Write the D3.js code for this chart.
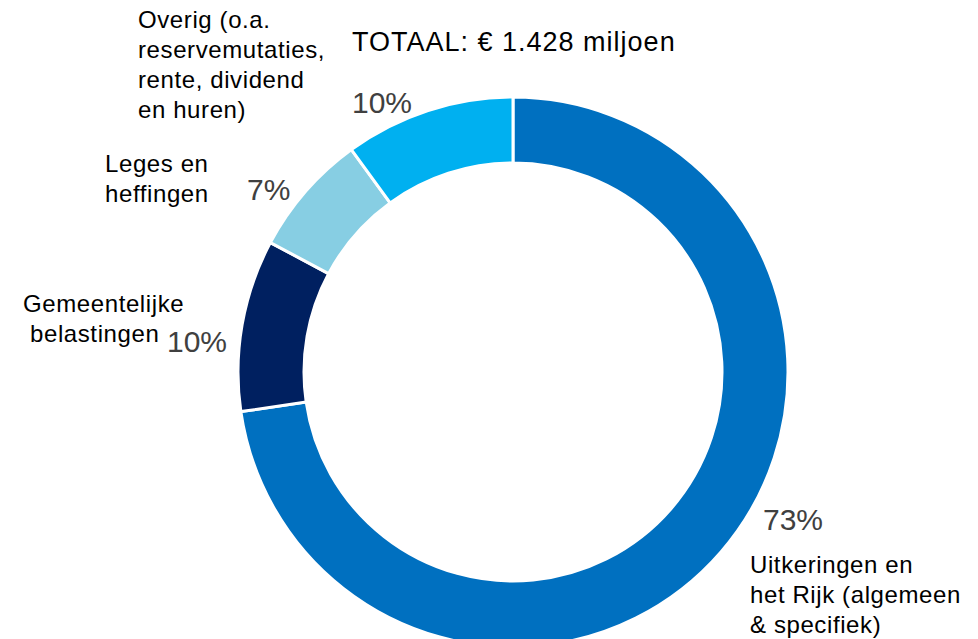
<!DOCTYPE html>
<html>
<head>
<meta charset="utf-8">
<script src="https://cdn.jsdelivr.net/npm/d3@7"></script>
<style>
  body { margin: 0; background: #fff; }
  svg { font-family: "Liberation Sans", Arial, sans-serif; }
</style>
</head>
<body>
<svg id="chart"></svg>
<script>
// data
var categories = ["Uitkeringen en het Rijk (algemeen & specifiek)", "Gemeentelijke belastingen", "Leges en heffingen", "Overig (o.a. reservemutaties, rente, dividend en huren)"];
var values = [72.7, 10.1, 7.2, 10.0];
var pctLabels = ["73%", "10%", "7%", "10%"];
var catLines = [
    ["Uitkeringen en", "het Rijk (algemeen", "& specifiek)"],
    ["Gemeentelijke", "belastingen"],
    ["Leges en", "heffingen"],
    ["Overig (o.a.", "reservemutaties,", "rente, dividend", "en huren)"]
];
var colors = ["#0070C0", "#002060", "#87CEE3", "#00B0F0"];
var title = "TOTAAL: € 1.428 miljoen";

var dims = { width: 978, height: 639, cx: 513, cy: 372, outer: 275, inner: 209 };

var svg = d3.select("#chart")
    .attr("width", dims.width)
    .attr("height", dims.height);

var pie = d3.pie().sort(null).value(d => d);
var arc = d3.arc().innerRadius(dims.inner).outerRadius(dims.outer);

var g = svg.append("g").attr("transform", `translate(${dims.cx},${dims.cy})`);

g.selectAll("path")
    .data(pie(values))
    .enter()
    .append("path")
    .attr("d", arc)
    .attr("fill", (d, i) => colors[i])
    .attr("stroke", "#fff")
    .attr("stroke-width", 3);

// label layout (x start per line, first baseline)
var pctPos = [[763, 530], [167, 352], [247, 200], [352, 113]];
var catPos = [
    { x: [750, 750, 750], y: 573 },
    { x: [23, 30], y: 312 },
    { x: [105, 105], y: 172 },
    { x: [138, 138, 138, 138], y: 28 }
];
var lineH = 30;

svg.append("g")
    .selectAll("text")
    .data(pctLabels)
    .enter()
    .append("text")
    .attr("x", (d, i) => pctPos[i][0])
    .attr("y", (d, i) => pctPos[i][1])
    .attr("font-size", 30)
    .attr("fill", "#404040")
    .text(d => d);

catLines.forEach((lines, i) => {
    var t = svg.append("text")
        .attr("font-size", 24)
        .attr("letter-spacing", 0.6)
        .attr("fill", "#000");
    lines.forEach((l, j) => {
        t.append("tspan")
            .attr("x", catPos[i].x[j])
            .attr("y", catPos[i].y + j * lineH)
            .text(l);
    });
});

svg.append("text")
    .attr("x", 352)
    .attr("y", 51)
    .attr("font-size", 27)
    .attr("letter-spacing", 1)
    .attr("fill", "#000")
    .text(title);
</script>
</body>
</html>
